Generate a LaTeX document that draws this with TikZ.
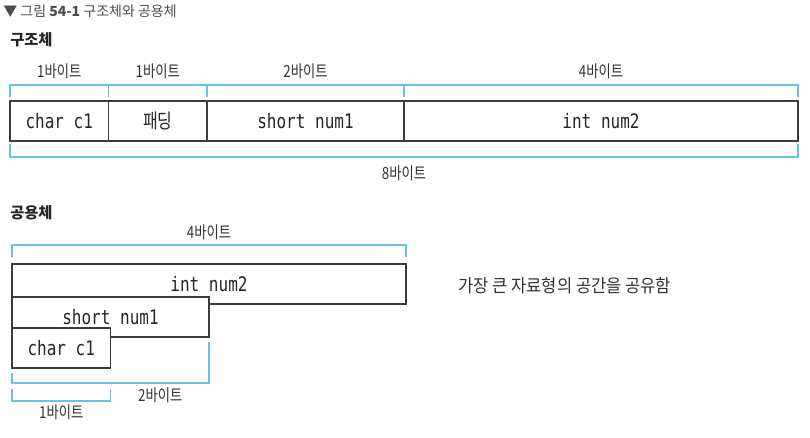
\documentclass[tikz,border=0pt]{standalone}
\usepackage{fontspec}
\setmainfont{Noto Sans CJK KR}
\newfontfamily\condfont[FakeStretch=0.8]{Noto Sans CJK KR}
\newfontfamily\notefont[FakeStretch=0.92]{Noto Sans CJK KR}
\newfontfamily\codefont[FakeStretch=0.8]{DejaVu Sans Mono}
\usetikzlibrary{positioning}
\definecolor{bracketblue}{RGB}{100,195,235}
\definecolor{boxgray}{RGB}{60,58,58}
\def\byte{73.875pt}
\tikzset{
  field/.style={draw=boxgray, line width=1.1pt, fill=white, outer sep=0pt,
    inner sep=0pt, minimum height=30pt, text=black!85,
    font=\codefont\fontsize{15}{15}\selectfont},
  bracket/.style={draw=bracketblue, line width=1pt},
  bytelabel/.style={font=\condfont\fontsize{12.5}{13}\selectfont, text=black!80, inner sep=0pt},
  heading/.style={font=\fontsize{11.5}{12}\selectfont\bfseries, text=black!85, anchor=west, inner sep=0pt}
}
\begin{document}
\begin{tikzpicture}[x=0.75pt,y=-0.75pt]
        \useasboundingbox (0,0) rectangle (810,437);
        % Caption and headings
        \node[anchor=west, inner sep=0pt, text=black!70, font=\fontsize{10.5}{12}\selectfont] (caption) at (3,11) {▼ 그림 \textbf{54-1} 구조체와 공용체};
        \node[heading] (struct-title) at (10,40) {구조체};
        \node[heading] (union-title) at (10,213) {공용체};
        % Struct
        \node[field, minimum width=\byte, anchor=north west] (c1) at (10,101) {char c1};
        \node[field, minimum width=\byte, right=0pt of c1, font=\condfont\fontsize{15}{15}\selectfont] (pad) {패딩};
        \node[field, minimum width={2*\byte}, right=0pt of pad] (num1) {short num1};
        \node[field, minimum width={4*\byte}, right=0pt of num1] (num2) {int num2};
        \foreach \n/\k in {c1/1,pad/1,num1/2,num2/4} {
            \node[bytelabel] (lbl-\n) at ([yshift=22pt]\n.north) {\k{}바이트};
        }
        \draw[bracket] ([yshift=3pt]c1.north west) |- ([yshift=12pt]num2.north east) -- ([yshift=3pt]num2.north east);
        \foreach \n in {pad,num1,num2} {
            \draw[bracket] ([yshift=3pt]\n.north west) -- ++(0,-12);
        }
        \draw[bracket] ([yshift=-2.25pt]c1.south west) |- ([yshift=-12pt]num2.south east) -- ([yshift=-2.25pt]num2.south east);
        \node[bytelabel] (lbl-total) at ([yshift=-24pt]num1.south east) {8바이트};
        % Union
        \node[field, minimum width={4*\byte}, anchor=north west] (un2) at (12,264) {int num2};
        \node[field, minimum width={2*\byte}, anchor=north west] (un1) at (12,297) {short num1};
        \node[field, minimum width=\byte, anchor=north west] (un0) at (12,328) {char c1};
        \draw[bracket] ([yshift=5.25pt]un2.north west) |- ([yshift=14.25pt]un2.north east) -- ([yshift=5.25pt]un2.north east);
        \node[bytelabel] (lbl-un2) at ([yshift=24pt]un2.north) {4바이트};
        \draw[bracket] ([yshift=-3.75pt]un0.south west) |- ([yshift=-34.5pt]un1.south east) -- ([yshift=-3.75pt]un1.south east);
        \node[bytelabel] (lbl-un1) at ([xshift=37.3pt,yshift=-20.25pt]un0.south east) {2바이트};
        \draw[bracket] ([yshift=-15.75pt]un0.south west) |- ([yshift=-24.75pt]un0.south east) -- ([yshift=-15.75pt]un0.south east);
        \node[bytelabel] (lbl-un0) at ([yshift=-33pt]un0.south) {1바이트};
        \node[anchor=west, inner sep=0pt, text=black!80, font=\notefont\fontsize{13.5}{15}\selectfont] (note) at ([xshift=39pt,yshift=-1.5pt]un2.east) {가장 큰 자료형의 공간을 공유함};
    \end{tikzpicture}
\end{document}
